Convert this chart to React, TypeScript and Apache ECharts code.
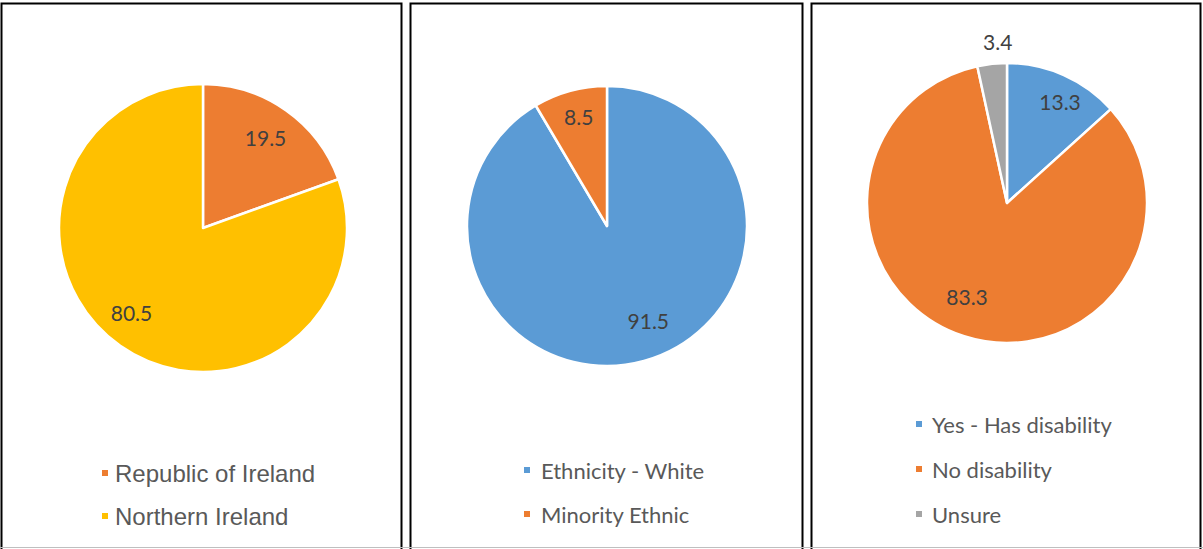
import React, { useEffect, useRef } from "react";
import * as echarts from "echarts";

const originNames = ["Republic of Ireland", "Northern Ireland"];
const originValues = [19.5, 80.5];
const originColors = ["#ED7D31", "#FFC000"];

const ethnicNames = ["Ethnicity - White", "Minority Ethnic"];
const ethnicValues = [91.5, 8.5];
const ethnicColors = ["#5B9BD5", "#ED7D31"];

const disabilityNames = ["Yes - Has disability", "No disability", "Unsure"];
const disabilityValues = [13.3, 83.3, 3.4];
const disabilityColors = ["#5B9BD5", "#ED7D31", "#A5A5A5"];

const LABEL_FONT = "Lato, 'Open Sans', sans-serif";

function mkData(names: string[], values: number[], colors: string[]) {
  return names.map((n, i) => ({ name: n, value: values[i], itemStyle: { color: colors[i] } }));
}

function mainPie(names: string[], values: number[], colors: string[], center: number[], r: number) {
  return {
    type: "pie",
    center,
    radius: [0, r],
    startAngle: 90,
    clockwise: true,
    silent: true,
    label: { show: false },
    labelLine: { show: false },
    itemStyle: { borderColor: "#ffffff", borderWidth: 2.5 },
    emphasis: { disabled: true },
    data: mkData(names, values, colors),
  };
}

function labelPie(
  names: string[],
  values: number[],
  center: number[],
  r0: number,
  r: number,
  hide: string[],
  offsets: number[][]
) {
  return {
    type: "pie",
    center,
    radius: [r0, r],
    startAngle: 90,
    clockwise: true,
    silent: true,
    legendHoverLink: false,
    itemStyle: { color: "rgba(0,0,0,0)", borderWidth: 0 },
    emphasis: { disabled: true },
    labelLine: { show: false },
    label: {
      show: true,
      position: "inside",
      formatter: (p: any) => String(p.value),
      fontFamily: LABEL_FONT,
      fontSize: 21,
      color: "#404040",
    },
    data: names.map((n, i) => ({
      name: n,
      value: values[i],
      label: hide.indexOf(n) >= 0 ? { show: false } : { offset: offsets[i] || [0, 0] },
    })),
  };
}

function legend(names: string[], left: number, top: number, gap: number, font: string, size: number, pad: number) {
  return {
    orient: "vertical",
    left,
    top,
    padding: 0,
    icon: "rect",
    itemWidth: 8,
    itemHeight: 8,
    itemGap: gap,
    selectedMode: false,
    data: names,
    textStyle: {
      fontFamily: font,
      fontSize: size,
      lineHeight: 24,
      color: "#595959",
      padding: [0, 0, 0, pad],
    },
  };
}

export default function App() {
  const ref = useRef<HTMLDivElement>(null);
  useEffect(() => {
    if (!ref.current) return;
    const chart = echarts.init(ref.current, null, { renderer: "svg" });
    const panelStyle = { fill: "none", stroke: "#000000", lineWidth: 2 };
    chart.setOption({
      animation: false,
      backgroundColor: "#ffffff",
      graphic: [
        { type: "rect", shape: { x: 1.5, y: 3.5, width: 400, height: 600 }, style: panelStyle, z: 10 },
        { type: "rect", shape: { x: 410.5, y: 3.5, width: 392, height: 600 }, style: panelStyle, z: 10 },
        { type: "rect", shape: { x: 811.5, y: 3.5, width: 389, height: 600 }, style: panelStyle, z: 10 },
        { type: "line", shape: { x1: 0, y1: 547.5, x2: 1203, y2: 547.5 }, style: { stroke: "#BFBFBF", lineWidth: 1 }, z: 11 },
      ],
      legend: [
        legend(originNames, 100, 461, 19, "'Liberation Sans', Arial, sans-serif", 24, 1),
        legend(ethnicNames, 522, 458, 20, LABEL_FONT, 22, 5),
        legend(disabilityNames, 914, 412, 21, LABEL_FONT, 22, 4),
      ],
      series: [
        mainPie(originNames, originValues, originColors, [203, 228], 144),
        mainPie(ethnicNames, ethnicValues, ethnicColors, [607, 226], 140),
        mainPie(disabilityNames, disabilityValues, disabilityColors, [1007, 203], 140),
        labelPie(originNames, originValues, [203, 228], 78, 144, [], [[-3, 3], [-6, -9]]),
        labelPie(ethnicNames, ethnicValues, [607, 226], 76, 140, [], [[12, -13], [1, -2]]),
        labelPie(disabilityNames, disabilityValues, [1007, 203], 76, 140, ["Unsure"], [[8, 0], [-6, -12]]),
        labelPie(disabilityNames, disabilityValues, [1007, 203], 140, 178, ["Yes - Has disability", "No disability"], [[0, 0], [0, 0], [8, 0]]),
      ],
    });
    return () => chart.dispose();
  }, []);
  return (
    <div
      ref={ref}
      style={{ position: "fixed", left: 0, top: 0, width: 1203, height: 549, background: "#fff" }}
    />
  );
}
